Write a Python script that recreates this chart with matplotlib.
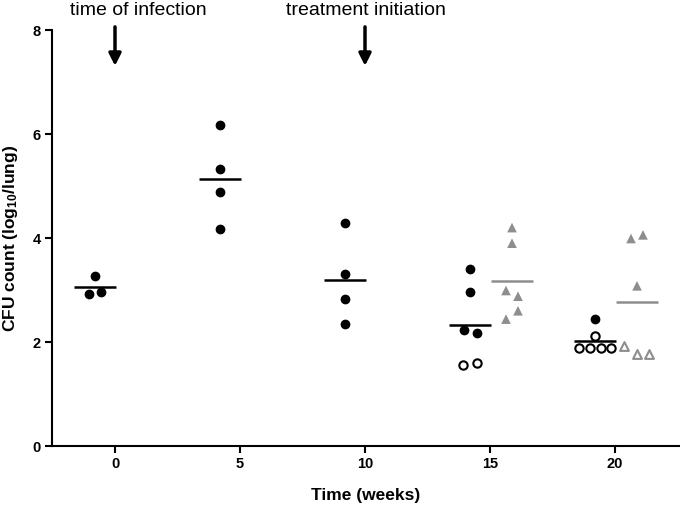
import matplotlib
matplotlib.use('Agg')
import matplotlib.pyplot as plt
import numpy as np

plt.rcParams['font.family'] = ['Liberation Sans', 'DejaVu Sans']
plt.rcParams['mathtext.fontset'] = 'custom'
plt.rcParams['mathtext.rm'] = 'Liberation Sans:bold'
plt.rcParams['mathtext.default'] = 'rm'

# black groups (filled = detected, open = low values), x in weeks
w0_x = [-0.8, -1.04, -0.56]
w0_y = [3.27, 2.92, 2.97]
w5_x = [4.2, 4.2, 4.2, 4.2]
w5_y = [6.17, 5.33, 4.89, 4.18]
w10_x = [9.2, 9.2, 9.2, 9.2]
w10_y = [4.29, 3.31, 2.83, 2.35]
w15_x = [14.2, 14.2, 13.96, 14.46]
w15_y = [3.40, 2.97, 2.23, 2.18]
w15_open_x = [13.92, 14.48]
w15_open_y = [1.55, 1.60]
w20_x = [19.2]
w20_y = [2.45]
w20_open_x = [18.56, 19.0, 19.44, 19.84, 19.2]
w20_open_y = [1.88, 1.88, 1.88, 1.88, 2.12]

# grey groups
g15_x = [15.88, 15.88, 15.64, 16.12, 16.12, 15.64]
g15_y = [4.20, 3.90, 2.99, 2.88, 2.60, 2.44]
g20_x = [20.64, 21.12, 20.88]
g20_y = [3.99, 4.06, 3.08]
g20_open_x = [20.36, 20.88, 21.36]
g20_open_y = [1.93, 1.76, 1.76]

black_centers = [-0.8, 4.2, 9.2, 14.2, 19.2]
grey_centers = [15.88, 20.88]

grey = '#8e8e8e'

fig = plt.figure(figsize=(6.8, 5.08), dpi=100)
ax = fig.add_axes([52/680, 1-446/508, 1-52/680, (446-30)/508])

# filled black dots
for xs, ys in [(w0_x, w0_y), (w5_x, w5_y), (w10_x, w10_y), (w15_x, w15_y), (w20_x, w20_y)]:
    ax.scatter(xs, ys, s=36, color='black', zorder=3, clip_on=False)
# open black circles
for xs, ys in [(w15_open_x, w15_open_y), (w20_open_x, w20_open_y)]:
    ax.scatter(xs, ys, s=36, facecolor='white', edgecolor='black', linewidth=1.5, zorder=3)
# grey triangles
for xs, ys in [(g15_x, g15_y), (g20_x, g20_y)]:
    ax.scatter(xs, ys, s=48, marker='^', color=grey, edgecolor='none', zorder=3)
ax.scatter(g20_open_x, g20_open_y, s=40, marker='^', facecolor='white', edgecolor=grey, linewidth=1.5, zorder=3)

# mean lines
black_groups = [w0_y, w5_y, w10_y, w15_y + w15_open_y, w20_y + w20_open_y]
for c, ys in zip(black_centers, black_groups):
    ax.hlines(np.mean(ys), c - 0.84, c + 0.84, color='black', lw=1.8, zorder=2)
grey_groups = [g15_y, g20_y + g20_open_y]
for c, ys in zip(grey_centers, grey_groups):
    ax.hlines(np.mean(ys), c - 0.84, c + 0.84, color=grey, lw=1.8, zorder=2)

ax.set_xlim(-2.52, 22.6)
ax.set_ylim(0, 8)
ax.set_xticks([0, 5, 10, 15, 20])
ax.set_yticks([0, 2, 4, 6, 8])
for s in ['top', 'right']:
    ax.spines[s].set_visible(False)
for s in ['left', 'bottom']:
    ax.spines[s].set_linewidth(1.5)
ax.tick_params(width=1.5, length=5, labelsize=10.5, pad=3)
for lbl in ax.get_xticklabels() + ax.get_yticklabels():
    lbl.set_fontweight('bold')

ax.set_xlabel('Time (weeks)', fontsize=12.5, fontweight='bold', labelpad=12)
ax.set_ylabel('CFU count (log$_{10}$/lung)', fontsize=12.5, fontweight='bold', labelpad=9)

# annotations
ax.text(-1.8, 8.29, 'time of infection', fontsize=14, va='baseline', ha='left', clip_on=False)
ax.text(6.84, 8.29, 'treatment initiation', fontsize=14, va='baseline', ha='left', clip_on=False)
for xa in [0, 10]:
    ax.annotate('', xy=(xa, 7.31), xytext=(xa, 8.06), annotation_clip=False,
                arrowprops=dict(arrowstyle='-|>', lw=2.5, color='black', mutation_scale=18,
                                shrinkA=0, shrinkB=0))

fig.savefig('out.png', dpi=100)
